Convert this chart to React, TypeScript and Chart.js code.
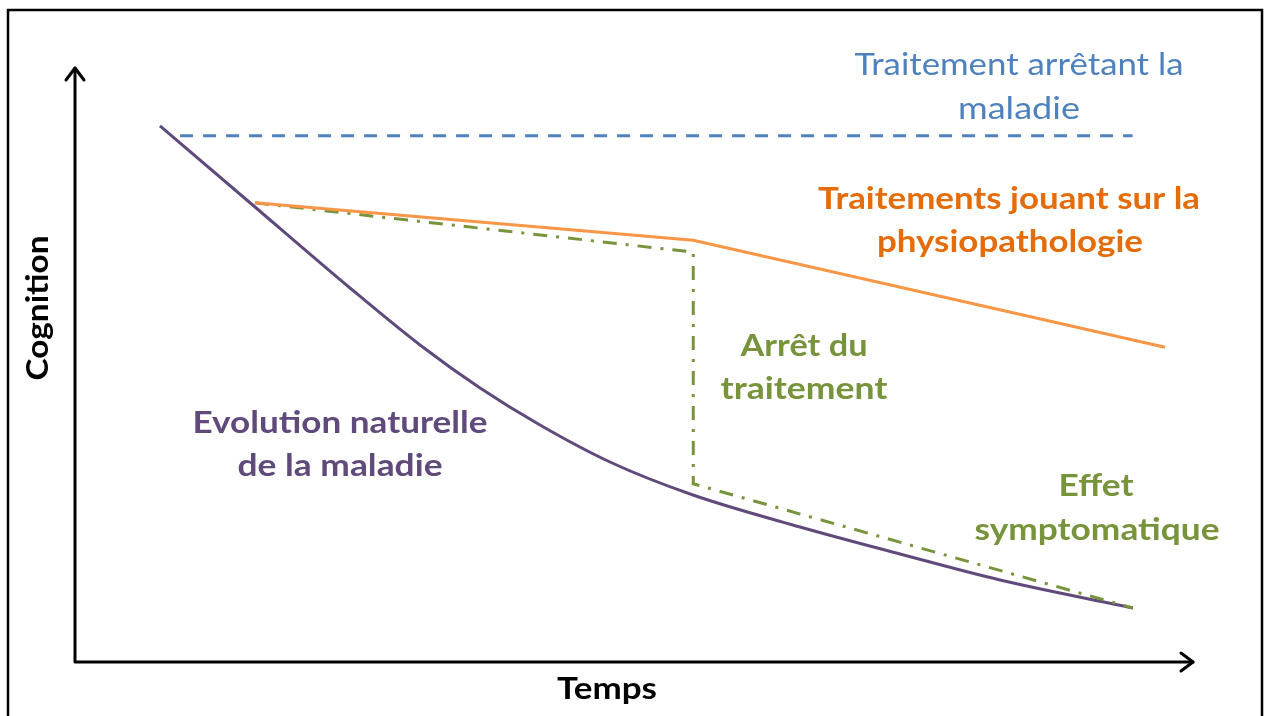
import React, { useEffect, useRef } from "react";
import { Chart, registerables } from "chart.js";

Chart.register(...registerables);

// Time (0-100) and cognition (0-100), schematic values
const naturalTime = [7.6, 16.1, 24.6, 30.86, 36.23, 41.59, 47.85, 55.28, 64.85, 73.79, 82.74, 94.63];
const naturalCognition = [90.24, 76.6, 62.96, 53.37, 46.13, 39.9, 33.67, 28.11, 22.73, 18.18, 13.8, 9.09];

const stopTime = [9.4, 94.6];
const stopCognition = [88.6, 88.6];

const physioTime = [16.1, 55.3, 97.5];
const physioCognition = [77.3, 71.0, 53.0];

const symptomTime = [16.1, 55.3, 55.3, 94.6];
const symptomCognition = [77.3, 69.0, 30.0, 9.1];

const xAxisTitle = "Temps";
const yAxisTitle = "Cognition";
const stopLabel = ["Traitement arrêtant la", "maladie"];
const physioLabel = ["Traitements jouant sur la", "physiopathologie"];
const arretLabel = ["Arrêt du", "traitement"];
const naturalLabel = ["Evolution naturelle", "de la maladie"];
const symptomLabel = ["Effet", "symptomatique"];

const toPoints = (xs: number[], ys: number[]) => xs.map((x, i) => ({ x, y: ys[i] }));

const FONT = "Lato, 'Open Sans', sans-serif";

function drawFitted(
  ctx: CanvasRenderingContext2D,
  text: string,
  cx: number,
  baseline: number,
  targetW: number,
  size: number,
  bold: boolean,
  color: string
) {
  ctx.save();
  ctx.font = `${bold ? "bold " : ""}${size}px ${FONT}`;
  const w = ctx.measureText(text).width;
  const sx = targetW / w;
  ctx.translate(cx, baseline);
  ctx.scale(sx, 1);
  ctx.fillStyle = color;
  ctx.textAlign = "center";
  ctx.textBaseline = "alphabetic";
  ctx.fillText(text, 0, 0);
  ctx.restore();
}

function arrowHead(ctx: CanvasRenderingContext2D, x: number, y: number, dir: "up" | "right") {
  const L = 12;
  const s = 9;
  ctx.beginPath();
  if (dir === "up") {
    ctx.moveTo(x - s, y + L);
    ctx.lineTo(x, y);
    ctx.lineTo(x + s, y + L);
  } else {
    ctx.moveTo(x - L, y - s);
    ctx.lineTo(x, y);
    ctx.lineTo(x - L, y + s);
  }
  ctx.stroke();
}

const decorPlugin = {
  id: "decor",
  beforeDatasetsDraw(chart: any) {
    const { ctx, scales } = chart;
    const xs = scales.x;
    const ys = scales.y;
    const x0 = xs.getPixelForValue(0);
    const x1 = xs.getPixelForValue(100);
    const y0 = ys.getPixelForValue(0);
    const y1 = ys.getPixelForValue(100);
    ctx.save();
    ctx.strokeStyle = "#000";
    ctx.lineWidth = 2.5;
    ctx.strokeRect(8, 10, 1254, 740);
    ctx.lineWidth = 3;
    ctx.lineCap = "round";
    ctx.lineJoin = "round";
    ctx.beginPath();
    ctx.moveTo(x0, y1);
    ctx.lineTo(x0, y0);
    ctx.lineTo(x1, y0);
    ctx.stroke();
    arrowHead(ctx, x0, y1, "up");
    arrowHead(ctx, x1, y0, "right");
    ctx.restore();
  },
  afterDatasetsDraw(chart: any) {
    const { ctx } = chart;
    const blue = "#4F81BD";
    const orange = "#E46C0A";
    const green = "#77933C";
    const purple = "#604A7B";
    drawFitted(ctx, stopLabel[0], 1019, 75, 329, 30, false, blue);
    drawFitted(ctx, stopLabel[1], 1019, 119, 122, 30, false, blue);
    drawFitted(ctx, physioLabel[0], 1009, 209, 382, 30, true, orange);
    drawFitted(ctx, physioLabel[1], 1010, 252, 266, 30, true, orange);
    drawFitted(ctx, arretLabel[0], 804, 356, 127, 30, true, green);
    drawFitted(ctx, arretLabel[1], 804, 399, 167, 30, true, green);
    drawFitted(ctx, naturalLabel[0], 340, 433, 295, 30, true, purple);
    drawFitted(ctx, naturalLabel[1], 340, 476, 205, 30, true, purple);
    drawFitted(ctx, symptomLabel[0], 1096, 496, 75, 30, true, green);
    drawFitted(ctx, symptomLabel[1], 1097, 540, 245, 30, true, green);
    drawFitted(ctx, xAxisTitle, 607, 699, 100, 30, true, "#000");
    ctx.save();
    ctx.translate(48, 308);
    ctx.rotate(-Math.PI / 2);
    drawFitted(ctx, yAxisTitle, 0, 0, 145, 30, true, "#000");
    ctx.restore();
  },
};

export default function App() {
  const ref = useRef<HTMLCanvasElement | null>(null);
  useEffect(() => {
    if (!ref.current) return;
    const chart = new Chart(ref.current, {
      type: "scatter",
      data: {
        datasets: [
          {
            label: "Traitement arrêtant la maladie",
            data: toPoints(stopTime, stopCognition),
            showLine: true,
            borderColor: "#4F81BD",
            borderWidth: 3,
            borderDash: [13, 10],
            pointRadius: 0,
          },
          {
            label: "Traitements jouant sur la physiopathologie",
            data: toPoints(physioTime, physioCognition),
            showLine: true,
            borderColor: "#F79646",
            borderWidth: 3,
            pointRadius: 0,
          },
          {
            label: "Effet symptomatique",
            data: toPoints(symptomTime, symptomCognition),
            showLine: true,
            borderColor: "#77933C",
            borderWidth: 3,
            borderDash: [14, 9, 3, 9],
            pointRadius: 0,
          },
          {
            label: "Evolution naturelle de la maladie",
            data: toPoints(naturalTime, naturalCognition),
            showLine: true,
            borderColor: "#604A7B",
            borderWidth: 3,
            cubicInterpolationMode: "monotone",
            pointRadius: 0,
          },
        ],
      },
      options: {
        animation: false,
        responsive: false,
        layout: { padding: { left: 75, right: 71, top: 68, bottom: 54 } },
        scales: {
          x: { type: "linear", min: 0, max: 100, display: false },
          y: { type: "linear", min: 0, max: 100, display: false },
        },
        plugins: { legend: { display: false }, tooltip: { enabled: false } },
      },
      plugins: [decorPlugin],
    });
    return () => chart.destroy();
  }, []);
  return (
    <div style={{ position: "fixed", left: 0, top: 0, width: 1264, height: 716, background: "#fff" }}>
      <canvas ref={ref} width={1264} height={716} style={{ display: "block" }} />
    </div>
  );
}
